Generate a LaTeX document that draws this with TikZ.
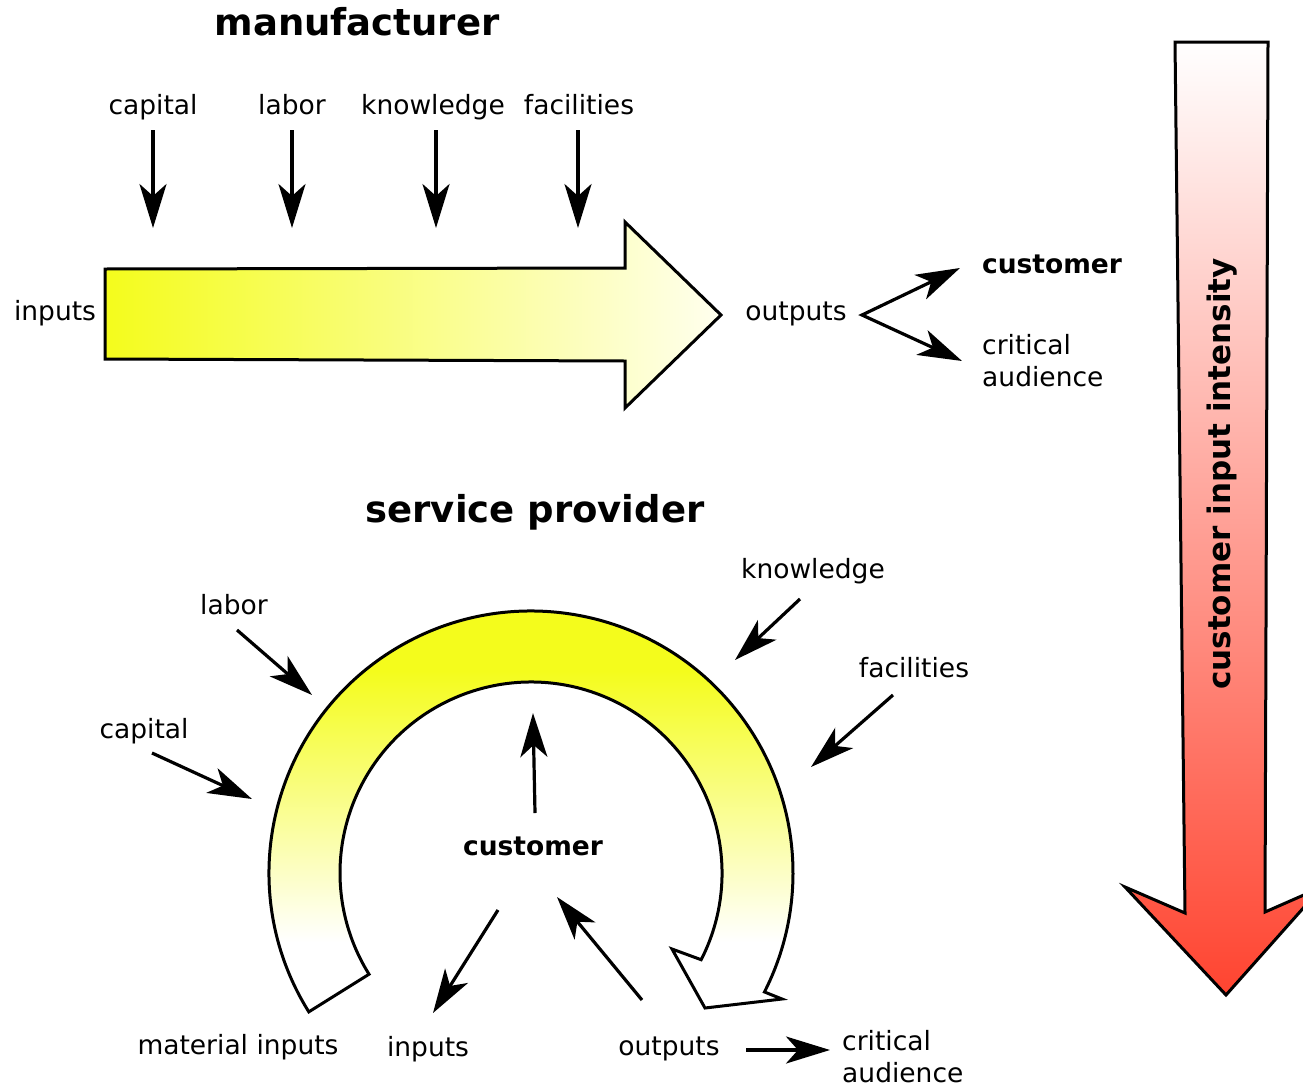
\documentclass[tikz,border=0pt]{standalone}
\usepackage{fontspec}
\setmainfont{DejaVu Sans}
\usetikzlibrary{arrows.meta}
\definecolor{mfyellow}{RGB}{244,252,28}
\definecolor{mfpale}{RGB}{255,255,238}
\definecolor{redarrow}{RGB}{255,68,48}
\pgfdeclareverticalshading{arcfade}{100bp}{color(0bp)=(white); color(33bp)=(white); color(64bp)=(mfyellow); color(100bp)=(mfyellow)}

\begin{document}
\begin{tikzpicture}[x=1pt,y=-1pt,
		lbl/.style={inner sep=0pt, font=\fontsize{26.5}{32}\selectfont, text height=20pt, text depth=6pt},
		boldlbl/.style={lbl, font=\fontsize{26.5}{32}\selectfont\bfseries},
		twoline/.style={inner sep=0pt, anchor=west, align=left, font=\fontsize{26.5}{32}\selectfont},
		heading/.style={inner sep=0pt, font=\fontsize{37}{44}\selectfont\bfseries},
		flow/.style={-{Stealth[length=44pt,width=27pt,inset=12pt]}, line width=3.2pt},
		bigarrow/.style={line width=3pt, line join=miter}]
		\useasboundingbox (0,0) rectangle (1303,1084);
		
		% manufacturer
		\node[heading] (manu) at (357,22) {manufacturer};
		\draw[bigarrow, left color=mfyellow, middle color=mfyellow!55!mfpale, right color=mfpale] (105,269) -- (625,268) -- (625,222) -- (721,315) -- (625,408) -- (625,361) -- (105,359) -- cycle;
		
		\node[lbl] (capital) at (153,107) {capital};
		\node[lbl] (labor) at (292,107) {labor};
		\node[lbl] (knowledge) at (433,107) {knowledge};
		\node[lbl] (facilities) at (579,107) {facilities};
		\coordinate (capital-tip) at (153,228);
		\coordinate (labor-tip) at (292,228);
		\coordinate (knowledge-tip) at (436,228);
		\coordinate (facilities-tip) at (578,228);
		\draw[flow, shorten <=10pt] (capital.south -| capital-tip) -- (capital-tip);
		\draw[flow, shorten <=10pt] (labor.south -| labor-tip) -- (labor-tip);
		\draw[flow, shorten <=10pt] (knowledge.south -| knowledge-tip) -- (knowledge-tip);
		\draw[flow, shorten <=10pt] (facilities.south -| facilities-tip) -- (facilities-tip);
		
		\node[lbl] (inputs) at (55,313) {inputs};
		\node[lbl] (outputs) at (796,313) {outputs};
		\node[boldlbl] (customer) at (1052,266) {customer};
		\node[twoline] (audience) at (982,361) {critical\\audience};
		\coordinate (fork) at (862,315);
		\coordinate (customer-tip) at (960,268);
		\coordinate (audience-tip) at (962,361);
		\draw[flow, {Stealth[length=44pt,width=27pt,inset=12pt]}-{Stealth[length=44pt,width=27pt,inset=12pt]}] (customer-tip) -- (fork) -- (audience-tip);
		
		% intensity
		\draw[bigarrow, top color=white, bottom color=redarrow] (1175,42) -- (1268,42) -- (1265,912) -- (1322,887) -- (1226,995) -- (1125,887) -- (1185,913) -- cycle;
		\node[rotate=90, inner sep=0pt, font=\fontsize{31}{37}\selectfont\bfseries] (intensity) at (1222,474) {customer input intensity};
		
		% service provider
		\node[heading] (serv) at (535,512) {service provider};
		\coordinate (hub) at (531,873);
		\draw[bigarrow, shading=arcfade] (hub) ++(148:262) arc[start angle=148, end angle=387, radius=262] -- (782,999) -- (705,1008) -- (672,949) -- ([shift={(387:191)}]hub) arc[start angle=387, end angle=148, radius=191] -- cycle;
		
		\node[lbl] (s-labor) at (234,607) {labor};
		\node[lbl] (s-capital) at (144,731) {capital};
		\node[lbl] (s-knowledge) at (813,571) {knowledge};
		\node[lbl] (s-facilities) at (914,670) {facilities};
		\node[boldlbl] (s-customer) at (533,848) {customer};
		\node[lbl] (material) at (238,1047) {material inputs};
		\node[lbl] (s-inputs) at (428,1049) {inputs};
		\node[lbl] (s-outputs) at (669,1048) {outputs};
		\node[twoline] (s-audience) at (842,1057) {critical\\audience};
		
		\coordinate (lab-a) at (237,630);
		\coordinate (lab-b) at (312,695);
		\coordinate (cap-a) at (152,753);
		\coordinate (cap-b) at (252,799);
		\coordinate (kn-a) at (800,599);
		\coordinate (kn-b) at (735,660);
		\coordinate (fac-a) at (893,695);
		\coordinate (fac-b) at (811,767);
		\coordinate (cus-a) at (535,813);
		\coordinate (cus-b) at (533,713);
		\coordinate (in-a) at (498,910);
		\coordinate (in-b) at (433,1013);
		\coordinate (out-a) at (642,1000);
		\coordinate (out-b) at (557,897);
		\coordinate (aud-a) at (746,1050);
		\coordinate (aud-b) at (830,1050);
		\draw[flow] (lab-a) -- (lab-b);
		\draw[flow] (cap-a) -- (cap-b);
		\draw[flow] (kn-a) -- (kn-b);
		\draw[flow] (fac-a) -- (fac-b);
		\draw[flow] (cus-a) -- (cus-b);
		\draw[flow] (in-a) -- (in-b);
		\draw[flow] (out-a) -- (out-b);
		\draw[flow] (aud-a) -- (aud-b);
		
\end{tikzpicture}
\end{document}
